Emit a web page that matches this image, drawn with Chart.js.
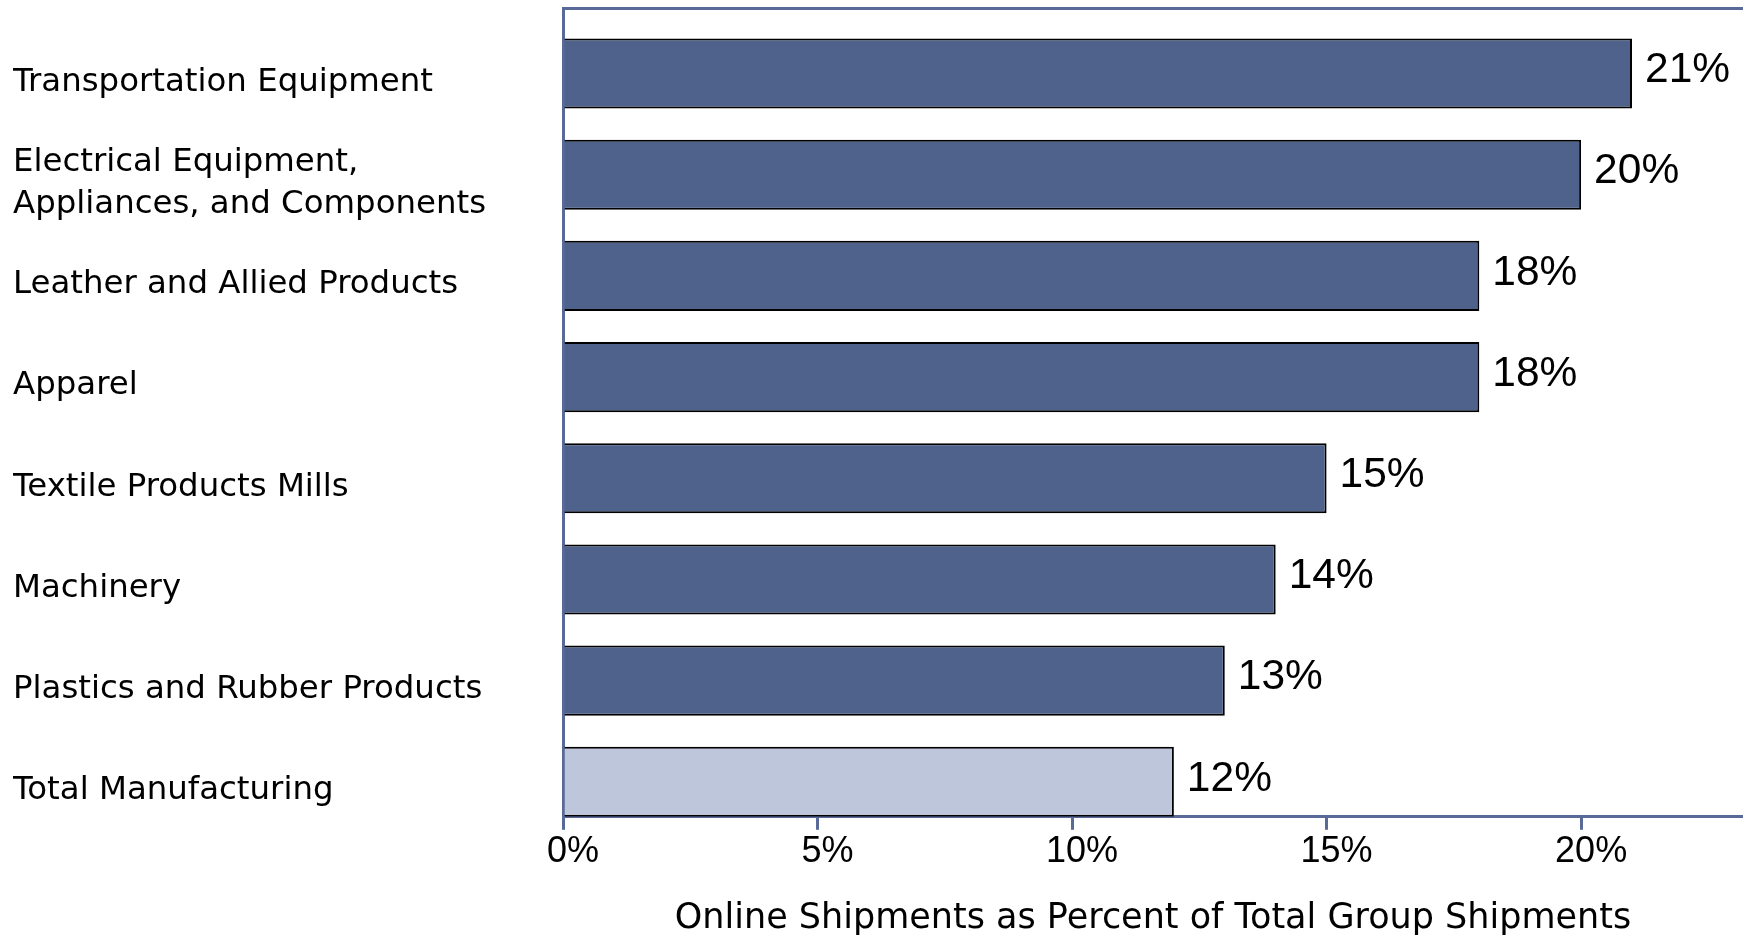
<!DOCTYPE html>
<html lang="en">
<head>
<meta charset="utf-8">
<title>Online Shipments by Industry Group</title>
<script src="https://cdn.jsdelivr.net/npm/chart.js@4.4.1/dist/chart.umd.min.js"></script>
<style>
    html, body { margin: 0; padding: 0; background: #fff; overflow: hidden; }
    #chartWrap { width: 1743px; height: 940px; position: relative; }
</style>
</head>
<body>
<div id="chartWrap"><canvas id="shipmentsChart"></canvas></div>
<script>
// Industry groups, top to bottom
const categories = [
    'Transportation Equipment',
    ['Electrical Equipment,', 'Appliances, and Components'],
    'Leather and Allied Products',
    'Apparel',
    'Textile Products Mills',
    'Machinery',
    'Plastics and Rubber Products',
    'Total Manufacturing'
];

// Online shipments as percent of total group shipments
const shares = [21, 20, 18, 18, 15, 14, 13, 12];

// Percent ticks on the horizontal axis
const xTicks = [0, 5, 10, 15, 20];

const AXIS_COLOR = '#5a6a98';
const BAR_FILL = '#4f628b';
const TOTAL_FILL = '#bec6db';
const LABEL_FONT = "'DejaVu Sans', Verdana, sans-serif";
const NUMBER_FONT = "'Liberation Sans', Arial, sans-serif";

/**
 * Writes the percent value just past the end of every bar.
 */
const valueLabels = {
    id: 'valueLabels',
    afterDatasetsDraw(chart) {
        const { ctx } = chart;
        const meta = chart.getDatasetMeta(0);
        ctx.save();
        ctx.font = `42.5px ${NUMBER_FONT}`;
        ctx.fillStyle = '#000';
        ctx.textAlign = 'left';
        ctx.textBaseline = 'middle';
        meta.data.forEach((bar, i) => {
            ctx.fillText(`${shares[i]}%`, bar.x + 13, bar.y - 3);
        });
        ctx.restore();
    }
};

function loadShipmentsChart() {
    const ctx = document.getElementById('shipmentsChart');
    if (!ctx) return;

    const lastIndex = categories.length - 1;

    new Chart(ctx.getContext('2d'), {
        type: 'bar',
        data: {
            datasets: [{
                data: shares.map((value, i) => ({ x: value, y: i })),
                xAxisID: 'x',
                yAxisID: 'y',
                backgroundColor: (c) => c.dataIndex === lastIndex ? TOTAL_FILL : BAR_FILL,
                borderColor: '#000',
                borderWidth: 2,
                barPercentage: 0.693,
                categoryPercentage: 1
            }]
        },
        options: {
            indexAxis: 'y',
            responsive: true,
            maintainAspectRatio: false,
            animation: false,
            layout: {
                padding: { top: 8, left: 13, right: 0, bottom: 0 }
            },
            plugins: {
                legend: { display: false },
                tooltip: { enabled: false }
            },
            scales: {
                x: {
                    type: 'linear',
                    axis: 'x',
                    position: 'bottom',
                    min: 0,
                    max: 23.18,
                    bounds: 'data',
                    afterBuildTicks: (scale) => {
                        scale.ticks = xTicks.map(v => ({ value: v }));
                    },
                    ticks: {
                        callback: (v) => `${v}%`,
                        color: '#000',
                        font: { family: NUMBER_FONT, size: 36 },
                        padding: 1,
                        labelOffset: 10,
                        autoSkip: false,
                        maxRotation: 0
                    },
                    grid: {
                        drawOnChartArea: false,
                        drawTicks: true,
                        tickLength: 13,
                        tickWidth: 3,
                        tickColor: AXIS_COLOR,
                        lineWidth: 3,
                        color: AXIS_COLOR
                    },
                    border: { color: AXIS_COLOR, width: 3 },
                    title: {
                        display: true,
                        text: 'Online Shipments as Percent of Total Group Shipments',
                        color: '#000',
                        font: { family: LABEL_FONT, size: 35 },
                        padding: { top: 23, bottom: 0 }
                    }
                },
                // frame line along the top of the plot
                xTop: {
                    type: 'linear',
                    axis: 'x',
                    position: 'top',
                    ticks: { display: false },
                    grid: { drawOnChartArea: false, drawTicks: false },
                    border: { color: AXIS_COLOR, width: 3 }
                },
                y: {
                    type: 'linear',
                    axis: 'y',
                    reverse: true,
                    offset: false,
                    bounds: 'data',
                    min: -0.648,
                    max: 7.346,
                    afterBuildTicks: (scale) => {
                        scale.ticks = categories.map((_, i) => ({ value: i }));
                    },
                    afterFit: (scale) => {
                        scale.width = 550;
                        scale.paddingTop = 0;
                        scale.paddingBottom = 0;
                    },
                    ticks: {
                        callback: (v) => categories[v],
                        crossAlign: 'far',
                        padding: 0,
                        labelOffset: 9,
                        color: '#000',
                        font: { family: LABEL_FONT, size: 32.4, lineHeight: 1.3 },
                        autoSkip: false
                    },
                    grid: { offset: false, drawOnChartArea: false, drawTicks: false },
                    border: { color: AXIS_COLOR, width: 3 }
                }
            }
        },
        plugins: [valueLabels]
    });
}

document.addEventListener('DOMContentLoaded', loadShipmentsChart);
</script>
</body>
</html>
